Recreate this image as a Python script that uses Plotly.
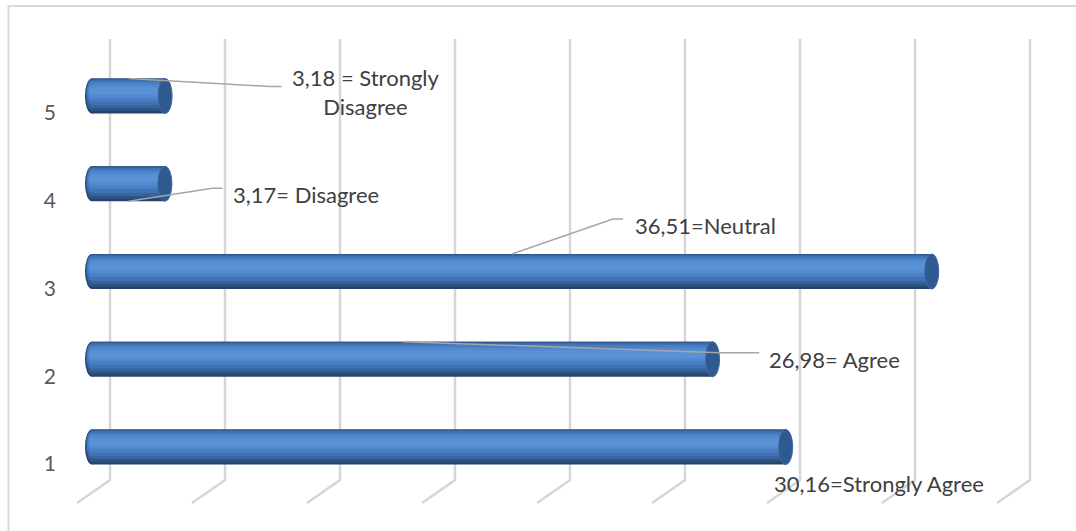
import plotly.graph_objects as go

# Survey responses (percent) per answer code
codes = [1, 2, 3, 4, 5]
values = [30.16, 26.98, 36.51, 3.17, 3.18]
labels = ["30,16=Strongly Agree", "26,98= Agree", "36,51=Neutral",
          "3,17= Disagree", "3,18 = Strongly<br>Disagree"]
grid_vals = [0, 5, 10, 15, 20, 25, 30, 35, 40]

W, H = 1076, 531
PX_PER_UNIT = 23.0
ZERO_PX = 92
DOMAIN_LEFT = 64
CAT_TOP = 96      # pixel centre of the top category
CAT_STEP = 87.75  # pixels between categories
BAR_H = 0.40      # bar thickness in category units

x_range = [(DOMAIN_LEFT - ZERO_PX) / PX_PER_UNIT, (W - ZERO_PX) / PX_PER_UNIT]
y_bottom_px = CAT_TOP + 4 * CAT_STEP
y_range = [1 - (H - y_bottom_px) / CAT_STEP, 1 + y_bottom_px / CAT_STEP]

# cylinder shading: (top fraction, bottom fraction, colour)
shade_layers = [
    (0.00, 1.00, "#24446c"),
    (0.00, 0.93, "#2d5385"),
    (0.02, 0.85, "#37639e"),
    (0.05, 0.76, "#4172b3"),
    (0.10, 0.66, "#4a7fc3"),
    (0.17, 0.56, "#5289cf"),
    (0.25, 0.47, "#5991d7"),
]

# label placement (pixel offsets from bar end; +dy is down) and leader paths
label_offsets = [(93, 36), (122, 0), (-226, -46), (141, 11), (201, -4)]
leader_paths = [
    None,
    [(0, 0), (318, 11), (357, 11)],
    [(0, 0), (101, -35), (111, -35)],
    [(0, 0), (84, -13), (94, -13)],
    [(0, 0), (141, 8), (153, 8)],
]
leader_edge = [None, "top", "top", "bottom", "top"]

fig = go.Figure()

for t, b, col in shade_layers:
    fig.add_trace(go.Bar(
        y=codes, x=values, orientation="h",
        width=(b - t) * BAR_H,
        offset=BAR_H / 2 - b * BAR_H,
        marker=dict(color=col, line=dict(width=0)),
        hoverinfo="skip", showlegend=False,
    ))

shapes = []
gy = lambda py: 1 - py / H
# back-wall gridlines with their receding feet
for g in grid_vals:
    shapes.append(dict(
        type="path", xref="x", yref="paper", xsizemode="pixel", xanchor=g,
        path=f"M18,{gy(39)} L18,{gy(480)} L-15,{gy(503)}",
        line=dict(color="#d6d6d6", width=2.5), layer="below",
    ))

# rounded left ends
for c in codes:
    for t, b, col in shade_layers:
        hw = 6 * (b - t) + 1
        shapes.append(dict(
            type="circle", xref="x", yref="y", xsizemode="pixel", xanchor=0,
            x0=-hw, x1=hw,
            y0=c + BAR_H / 2 - b * BAR_H, y1=c + BAR_H / 2 - t * BAR_H,
            fillcolor=col, line=dict(width=0), layer="below",
        ))

# right end caps
for c, v in zip(codes, values):
    shapes.append(dict(
        type="circle", xref="x", yref="y", xsizemode="pixel", xanchor=v,
        x0=-7, x1=7, y0=c - BAR_H / 2, y1=c + BAR_H / 2,
        fillcolor="#2f5a8f", line=dict(color="#3c689f", width=1), layer="above",
    ))

# leader lines from the middle of each bar to its label
for c, v, pts, edge in zip(codes, values, leader_paths, leader_edge):
    if pts is None:
        continue
    ysign = 1 if edge == "top" else -1
    path = "M" + " L".join(f"{dx},{-dy}" for dx, dy in pts)
    shapes.append(dict(
        type="path", xref="x", yref="y", xsizemode="pixel", ysizemode="pixel",
        xanchor=v / 2, yanchor=c + ysign * BAR_H / 2, path=path,
        line=dict(color="#a6a6a6", width=1.5), layer="above",
    ))

# frame
shapes.append(dict(type="line", xref="paper", yref="paper",
                   x0=8.5 / W, x1=8.5 / W, y0=0, y1=gy(5),
                   line=dict(color="#d9d9d9", width=2)))
shapes.append(dict(type="line", xref="paper", yref="paper",
                   x0=8 / W, x1=1, y0=gy(6), y1=gy(6),
                   line=dict(color="#d9d9d9", width=2)))

annotations = []
for c, v, txt, (dx, dy) in zip(codes, values, labels, label_offsets):
    annotations.append(dict(
        x=v, y=c, xref="x", yref="y", text=txt, showarrow=False,
        xshift=dx, yshift=-dy, xanchor="center", yanchor="middle",
        align="center", font=dict(family="Lato", size=22, color="#404040"),
    ))

fig.update_layout(
    width=W, height=H, margin=dict(l=0, r=0, t=0, b=0),
    paper_bgcolor="white", plot_bgcolor="white",
    barmode="overlay", shapes=shapes, annotations=annotations,
    xaxis=dict(domain=[DOMAIN_LEFT / W, 1], range=x_range, showgrid=False,
               zeroline=False, showticklabels=False, showline=False),
    yaxis=dict(range=y_range, tickvals=codes, ticktext=[str(c) for c in codes],
               showgrid=False, zeroline=False, showline=False,
               ticklabelshift=17, ticklabelstandoff=7,
               tickfont=dict(family="Lato", size=21, color="#595959")),
)

fig.write_html("out.html")
